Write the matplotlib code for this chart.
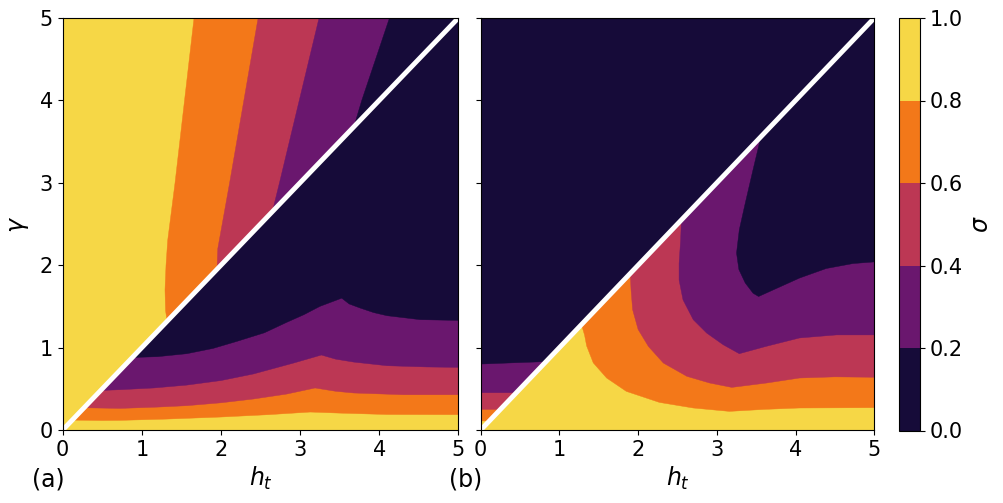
import matplotlib
matplotlib.use("Agg")
import matplotlib.pyplot as plt
from matplotlib.colors import ListedColormap, BoundaryNorm
from matplotlib.patches import Polygon
from matplotlib.cm import ScalarMappable

# sigma levels (colour bands)
levels = [0.0, 0.2, 0.4, 0.6, 0.8, 1.0]
diag = [0, 5]

# ---- panel (a): boundaries above the diagonal (gamma > h_t) ----
a_up_08_g = [1.32, 1.45, 1.7, 2.0, 2.3, 3.0, 4.0, 5.0]
a_up_08_h = [1.32, 1.30, 1.293, 1.306, 1.327, 1.42, 1.54, 1.66]
a_up_06_g = [1.95, 2.2, 3.0, 4.0, 5.0]
a_up_06_h = [1.95, 1.96, 2.11, 2.29, 2.47]
a_up_04_g = [2.65, 3.0, 4.0, 5.0]
a_up_04_h = [2.65, 2.74, 2.99, 3.24]
a_up_02_g = [3.68, 4.0, 5.0]
a_up_02_h = [3.68, 3.78, 4.13]

# ---- panel (a): boundaries below the diagonal ----
a_lo_08_h = [0.12, 0.5, 0.724, 1.3, 1.99, 2.6, 3.13, 3.5, 4.1, 5.0]
a_lo_08_g = [0.12, 0.115, 0.117, 0.132, 0.157, 0.186, 0.218, 0.205, 0.188, 0.186]
a_lo_06_h = [0.27, 0.724, 1.2, 1.568, 2.0, 2.41, 2.83, 3.19, 3.45, 3.68, 4.31, 5.0]
a_lo_06_g = [0.27, 0.262, 0.278, 0.295, 0.33, 0.376, 0.436, 0.51, 0.47, 0.449, 0.428, 0.428]
a_lo_04_h = [0.48, 0.724, 1.15, 1.568, 2.0, 2.41, 2.92, 3.27, 3.45, 3.68, 4.1, 4.6, 5.0]
a_lo_04_g = [0.48, 0.489, 0.51, 0.545, 0.6, 0.68, 0.813, 0.91, 0.86, 0.824, 0.78, 0.765, 0.76]
a_lo_02_h = [0.88, 1.2, 1.568, 1.9, 2.2, 2.55, 2.83, 3.05, 3.25, 3.527, 3.62, 3.76, 3.93, 4.1, 4.52, 5.0]
a_lo_02_g = [0.88, 0.89, 0.926, 0.99, 1.075, 1.18, 1.306, 1.40, 1.50, 1.60, 1.53, 1.48, 1.425, 1.387, 1.339, 1.33]

# ---- panel (b): boundaries above the diagonal ----
b_up_08_h = [0.0, 0.11]
b_up_08_g = [0.11, 0.11]
b_up_06_h = [0.0, 0.25]
b_up_06_g = [0.25, 0.25]
b_up_04_h = [0.0, 0.453]
b_up_04_g = [0.453, 0.453]
b_up_02_h = [0.0, 0.4, 0.83]
b_up_02_g = [0.80, 0.815, 0.83]

# ---- panel (b): boundaries below the diagonal ----
b_lo_08_h = [1.28, 1.32, 1.346, 1.43, 1.60, 1.85, 2.27, 2.70, 3.16, 3.6, 4.05, 5.0]
b_lo_08_g = [1.28, 1.15, 1.02, 0.815, 0.631, 0.469, 0.335, 0.267, 0.226, 0.25, 0.267, 0.271]
b_lo_06_h = [1.90, 1.91, 1.93, 2.0, 2.13, 2.32, 2.62, 2.91, 3.19, 3.63, 4.05, 4.5, 5.0]
b_lo_06_g = [1.90, 1.70, 1.46, 1.22, 1.015, 0.813, 0.651, 0.570, 0.517, 0.57, 0.631, 0.645, 0.64]
b_lo_04_h = [2.55, 2.54, 2.52, 2.52, 2.57, 2.70, 2.87, 3.08, 3.285, 3.63, 4.05, 4.52, 5.0]
b_lo_04_g = [2.55, 2.31, 2.02, 1.82, 1.58, 1.339, 1.177, 1.035, 0.926, 1.016, 1.117, 1.154, 1.154]
b_lo_02_h = [3.56, 3.46, 3.36, 3.285, 3.25, 3.28, 3.36, 3.46, 3.53, 4.05, 4.39, 4.73, 5.0]
b_lo_02_g = [3.56, 3.16, 2.75, 2.43, 2.148, 1.947, 1.785, 1.66, 1.62, 1.844, 1.96, 2.02, 2.04]

ticks = [0, 1, 2, 3, 4, 5]

# discrete inferno, like contourf with 5 levels
cmap = ListedColormap(plt.cm.inferno([0.1, 0.3, 0.5, 0.7, 0.9]))
norm = BoundaryNorm(levels, cmap.N)
band = [cmap(i) for i in range(5)]   # 0: dark ... 4: yellow

W, H = 1004, 503
fig = plt.figure(figsize=(W / 100, H / 100), dpi=100)
ax_a = fig.add_axes([62.7 / W, 73 / H, 395.6 / W, 412 / H])
ax_b = fig.add_axes([480.7 / W, 73 / H, 393.6 / W, 412 / H])
cax = fig.add_axes([899.3 / W, 72.5 / H, 21 / W, 412.5 / H])


def region(ax, hs, gs, corners, color, upper):
    # area where sigma is below a level, clipped to one side of the diagonal
    if upper:
        tri = Polygon([(0, 0), (0, 5), (5, 5)], closed=True, transform=ax.transData)
    else:
        tri = Polygon([(0, 0), (5, 0), (5, 5)], closed=True, transform=ax.transData)
    pts = list(zip(hs, gs)) + corners
    p = Polygon(pts, closed=True, facecolor=color, edgecolor=color, lw=0.3, zorder=1)
    ax.add_patch(p)
    p.set_clip_path(tri)


# panel (a)
ax_a.set_facecolor(band[4])
up_a = [(a_up_08_h, a_up_08_g), (a_up_06_h, a_up_06_g),
        (a_up_04_h, a_up_04_g), (a_up_02_h, a_up_02_g)]
lo_a = [(a_lo_08_h, a_lo_08_g), (a_lo_06_h, a_lo_06_g),
        (a_lo_04_h, a_lo_04_g), (a_lo_02_h, a_lo_02_g)]
for k, (hs, gs) in enumerate(up_a):
    region(ax_a, hs, gs, [(5, 5)], band[3 - k], True)
for k, (hs, gs) in enumerate(lo_a):
    region(ax_a, hs, gs, [(5, 5)], band[3 - k], False)

# panel (b)
ax_b.set_facecolor(band[4])
up_b = [(b_up_08_h, b_up_08_g), (b_up_06_h, b_up_06_g),
        (b_up_04_h, b_up_04_g), (b_up_02_h, b_up_02_g)]
lo_b = [(b_lo_08_h, b_lo_08_g), (b_lo_06_h, b_lo_06_g),
        (b_lo_04_h, b_lo_04_g), (b_lo_02_h, b_lo_02_g)]
for k, (hs, gs) in enumerate(up_b):
    region(ax_b, hs, gs, [(5, 5), (0, 5)], band[3 - k], True)
for k, (hs, gs) in enumerate(lo_b):
    region(ax_b, hs, gs, [(5, 5)], band[3 - k], False)

for ax in (ax_a, ax_b):
    ax.plot(diag, diag, color='white', lw=3.5, zorder=3)
    ax.set_xlim(0, 5)
    ax.set_ylim(0, 5)
    ax.set_xticks(ticks)
    ax.set_yticks(ticks)
    ax.tick_params(labelsize=15)
    ax.set_xlabel('$h_t$', fontsize=17, labelpad=4)
    for s in ax.spines.values():
        s.set_zorder(4)

ax_a.set_ylabel(r'$\gamma$', fontsize=17, labelpad=6)
ax_b.set_yticklabels([])

fig.text(48 / W, (H - 479) / H, '(a)', fontsize=17, ha='center', va='center')
fig.text(466 / W, (H - 479) / H, '(b)', fontsize=17, ha='center', va='center')

cb = fig.colorbar(ScalarMappable(norm=norm, cmap=cmap), cax=cax, ticks=levels)
cb.ax.set_yticklabels(['0.0', '0.2', '0.4', '0.6', '0.8', '1.0'])
cb.ax.tick_params(labelsize=15)
cb.set_label(r'$\sigma$', fontsize=17)

fig.savefig('out.png', dpi=100, facecolor='white')
